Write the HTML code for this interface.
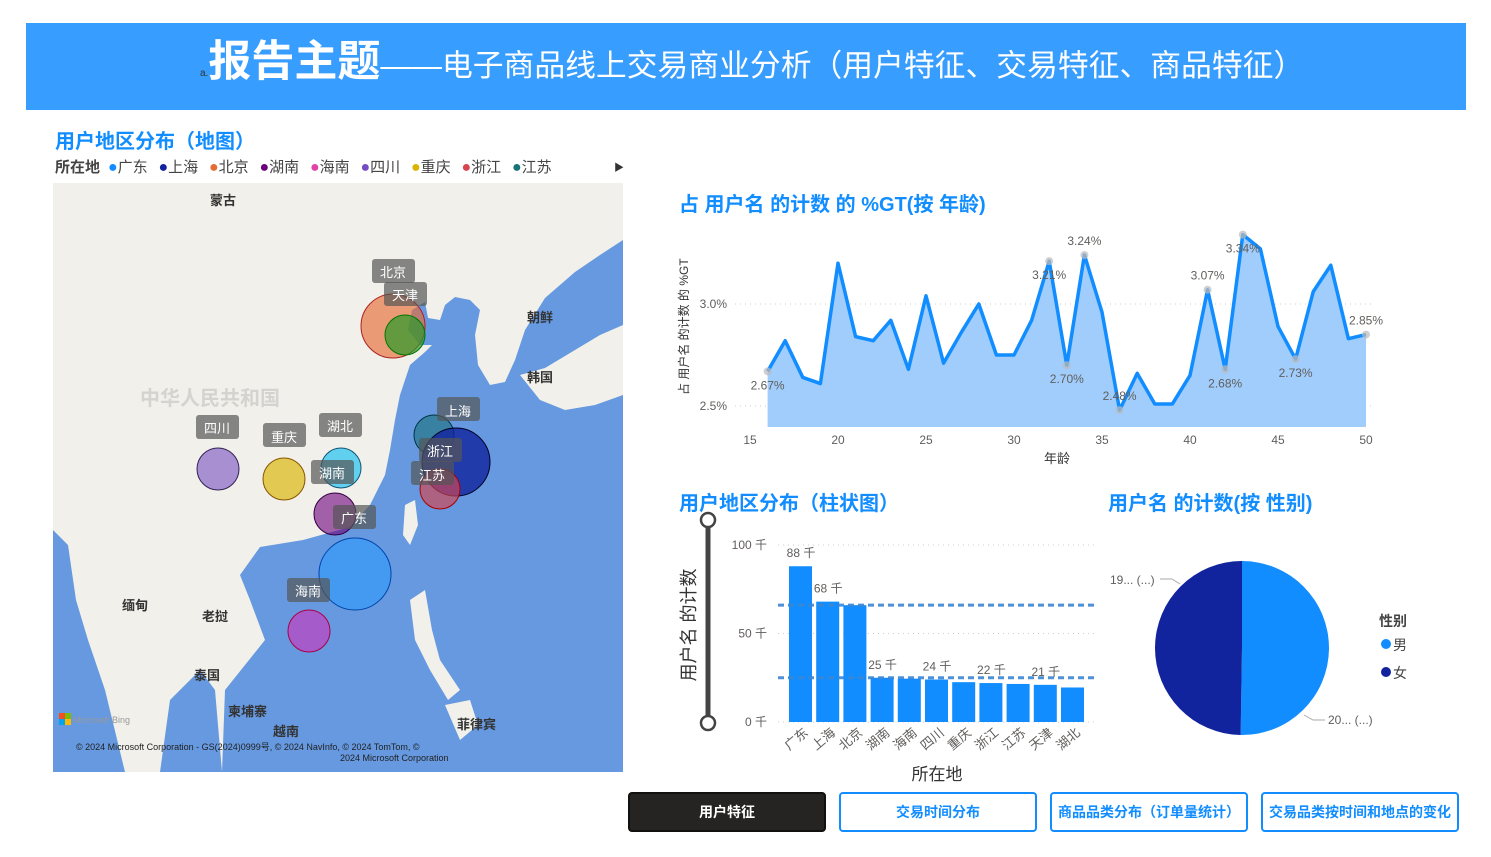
<!DOCTYPE html>
<html><head><meta charset="utf-8">
<style>
body{margin:0;width:1491px;height:857px;background:#fff;overflow:hidden;font-family:"Liberation Sans","Noto Sans CJK SC",sans-serif;position:relative}
.abs{position:absolute}
.ttl{color:#118dff;font-weight:bold;font-size:20px;white-space:nowrap}
.btn{position:absolute;top:792px;height:40px;width:198px;border:2px solid #118dff;border-radius:4px;box-sizing:border-box;color:#118dff;font-size:14px;font-weight:bold;text-align:center;line-height:36px;background:#fff}
.li{display:inline-block;width:50.5px}
.dot{font-size:16px}
</style></head><body>
<div class="abs" style="left:26px;top:23px;width:1440px;height:87px;background:#379dff"></div>
<div class="abs" style="left:200px;top:34px;color:#fff;white-space:nowrap;height:60px;line-height:56px">
<span style="font-size:10px;color:#333">a.</span><span style="font-size:43px;font-weight:bold">报告主题</span><span style="font-size:30.8px">——电子商品线上交易商业分析（用户特征、交易特征、商品特征）</span></div>

<div class="abs ttl" style="left:55px;top:125px">用户地区分布（地图）</div>
<div class="abs" style="left:55px;top:156px;font-size:15px;color:#444;white-space:nowrap">
<b style="display:inline-block;width:53px">所在地</b><span class="li"><span class="dot" style="color:#118dff">●</span>广东</span><span class="li"><span class="dot" style="color:#12239e">●</span>上海</span><span class="li"><span class="dot" style="color:#e66c37">●</span>北京</span><span class="li"><span class="dot" style="color:#6b007b">●</span>湖南</span><span class="li"><span class="dot" style="color:#e044a7">●</span>海南</span><span class="li"><span class="dot" style="color:#744ec2">●</span>四川</span><span class="li"><span class="dot" style="color:#d9b300">●</span>重庆</span><span class="li"><span class="dot" style="color:#d64550">●</span>浙江</span><span class="li"><span class="dot" style="color:#197278">●</span>江苏</span></div>
<div class="abs" style="left:614px;top:159px;font-size:10px;color:#333">▶</div>

<svg class="abs" style="left:53px;top:183px" width="570" height="589" viewBox="53 183 570 589">
<rect x="53" y="183" width="570" height="589" fill="#f2f0ea"/>
<path d="M623,240 L600,255 L575,272 L545,298 L525,330 L515,360 L505,382 L490,385 L478,365 L475,335 L480,310 L470,300 L455,297 L445,305 L440,320 L428,318 L425,302 L412,310 L408,330 L420,345 L432,345 L425,352 L410,365 L405,380 L400,395 L395,420 L390,450 L385,475 L370,505 L350,527 L303,540 L260,547 L240,575 L250,600 L265,640 L245,665 L225,690 L222,772 L623,772 Z" fill="#6699e0"/>
<path d="M53,530 L68,545 L76,600 L88,640 L105,690 L125,772 L53,772 Z" fill="#6699e0"/>
<path d="M160,772 L170,700 L200,670 L215,690 L222,772 Z" fill="#6699e0"/>
<path d="M520,375 L545,368 L575,350 L600,335 L623,325 L623,395 L595,405 L565,410 L540,400 Z" fill="#f2f0ea"/>
<path d="M405,505 L415,500 L418,525 L410,545 L403,535 Z" fill="#f2f0ea"/>
<path d="M410,600 L425,590 L432,630 L440,660 L460,690 L448,700 L430,670 L415,640 Z" fill="#f2f0ea"/>
<path d="M445,705 L470,700 L478,725 L460,740 Z" fill="#f2f0ea"/>
<g font-size="13" font-weight="bold" fill="#333">
<text x="210" y="205">蒙古</text><text x="527" y="322">朝鲜</text><text x="527" y="382">韩国</text>
<text x="122" y="610">缅甸</text><text x="202" y="621">老挝</text><text x="194" y="680">泰国</text><text x="228" y="716">柬埔寨</text><text x="273" y="736">越南</text><text x="457" y="729">菲律宾</text></g>
<text x="140" y="405" font-size="20" font-weight="bold" fill="#d5d3cf">中华人民共和国</text>
<g stroke-width="1">
<circle cx="393" cy="326" r="32" fill="#e66c37" fill-opacity=".65" stroke="#a22"/>
<circle cx="405" cy="335" r="20" fill="#2a9a2a" fill-opacity=".7" stroke="#070"/>
<circle cx="218" cy="469" r="21" fill="#744ec2" fill-opacity=".6" stroke="#325"/>
<circle cx="284" cy="479" r="21" fill="#d9b300" fill-opacity=".65" stroke="#850"/>
<circle cx="341" cy="468" r="20" fill="#3cc8f0" fill-opacity=".8" stroke="#157"/>
<circle cx="335" cy="514" r="21" fill="#6b007b" fill-opacity=".6" stroke="#304"/>
<circle cx="355" cy="574" r="36" fill="#3a9bf5" fill-opacity=".75" stroke="#04a"/>
<circle cx="309" cy="631" r="21" fill="#c040c0" fill-opacity=".7" stroke="#a04"/>
<circle cx="434" cy="435" r="20" fill="#197278" fill-opacity=".6" stroke="#034"/>
<circle cx="456" cy="462" r="34" fill="#12239e" fill-opacity=".8" stroke="#002"/>
<circle cx="440" cy="489" r="20" fill="#d64550" fill-opacity=".65" stroke="#a00"/>
</g>
<g font-size="13" fill="#fff">
<rect x="372" y="259" width="43" height="24" rx="3" fill="#555" fill-opacity=".7"/><text x="380" y="277">北京</text>
<rect x="384" y="282" width="43" height="24" rx="3" fill="#555" fill-opacity=".7"/><text x="392" y="300">天津</text>
<rect x="196" y="415" width="43" height="24" rx="3" fill="#555" fill-opacity=".7"/><text x="204" y="433">四川</text>
<rect x="263" y="423" width="43" height="24" rx="3" fill="#555" fill-opacity=".7"/><text x="271" y="442">重庆</text>
<rect x="319" y="413" width="43" height="24" rx="3" fill="#555" fill-opacity=".7"/><text x="327" y="431">湖北</text>
<rect x="311" y="460" width="43" height="24" rx="3" fill="#555" fill-opacity=".7"/><text x="319" y="478">湖南</text>
<rect x="333" y="505" width="43" height="24" rx="3" fill="#555" fill-opacity=".7"/><text x="341" y="523">广东</text>
<rect x="287" y="578" width="43" height="24" rx="3" fill="#555" fill-opacity=".7"/><text x="295" y="596">海南</text>
<rect x="437" y="397" width="43" height="24" rx="3" fill="#555" fill-opacity=".7"/><text x="445" y="416">上海</text>
<rect x="419" y="438" width="43" height="24" rx="3" fill="#555" fill-opacity=".7"/><text x="427" y="456">浙江</text>
<rect x="411" y="461" width="43" height="24" rx="3" fill="#555" fill-opacity=".7"/><text x="419" y="480">江苏</text></g>
<rect x="59" y="713" width="6" height="6" fill="#f25022"/><rect x="65" y="713" width="6" height="6" fill="#7fba00"/><rect x="59" y="719" width="6" height="6" fill="#00a4ef"/><rect x="65" y="719" width="6" height="6" fill="#ffb900"/>
<text x="73" y="723" font-size="9" fill="#999">Microsoft Bing</text>
<text x="76" y="750" font-size="9" fill="#222">© 2024 Microsoft Corporation - GS(2024)0999号, © 2024 NavInfo, © 2024 TomTom, ©</text>
<text x="340" y="761" font-size="9" fill="#222">2024 Microsoft Corporation</text>
</svg>

<div class="abs ttl" style="left:679px;top:188px">占 用户名 的计数 的 %GT(按 年龄)</div>
<svg class="abs" id="lineSvg" style="left:0;top:0" width="1491" height="857"></svg>

<div class="abs ttl" style="left:679px;top:487px">用户地区分布（柱状图）</div>
<div class="abs ttl" style="left:1108px;top:487px">用户名 的计数(按 性别)</div>

<div class="btn" style="left:628px;background:#252423;border-color:#111;color:#fff">用户特征</div>
<div class="btn" style="left:839px">交易时间分布</div>
<div class="btn" style="left:1050px">商品品类分布（订单量统计）</div>
<div class="btn" style="left:1261px">交易品类按时间和地点的变化</div>

<script>
const ages=[16,17,18,19,20,21,22,23,24,25,26,27,28,29,30,31,32,33,34,35,36,37,38,39,40,41,42,43,44,45,46,47,48,49,50];
const pctValues=[2.67,2.82,2.64,2.61,3.20,2.84,2.82,2.92,2.68,3.04,2.71,2.86,3.00,2.75,2.75,2.92,3.21,2.70,3.24,2.96,2.48,2.66,2.51,2.51,2.65,3.07,2.68,3.34,3.27,2.89,2.73,3.06,3.19,2.83,2.85];
const ageTicks=[15,20,25,30,35,40,45,50];
const pctTicks=[2.5,3.0];
const labeledAges=[16,32,33,34,36,41,42,43,46,50];
const regions=["广东","上海","北京","湖南","海南","四川","重庆","浙江","江苏","天津","湖北"];
const regionCounts=[88,68,66,25,24.5,24,22.5,22,21.5,21,19.5];
const regionLabels=["88 千","68 千","","25 千","","24 千","","22 千","","21 千",""];
const countTicks=[0,50,100];
const refLines=[66,25];
const genders=["男","女"];
const genderCounts=[20.1,19.9];

const NS="http://www.w3.org/2000/svg";
const svg=document.getElementById('lineSvg');
function mk(tag,attrs,parent){const e=document.createElementNS(NS,tag);for(const k in attrs)e.setAttribute(k,attrs[k]);(parent||svg).appendChild(e);return e;}
function txt(x,y,s,attrs){const e=mk('text',Object.assign({x:x,y:y,'font-size':12,fill:'#605e5c'},attrs||{}));e.textContent=s;return e;}

// line chart
const lx=a=>750+(a-15)*17.6, ly=v=>406-(v-2.5)*204;
pctTicks.forEach(t=>{const g=mk('line',{x1:735,x2:1375,y1:ly(t),y2:ly(t),stroke:'#ccc','stroke-dasharray':'1 4'});

const l=txt(727,ly(t)+4,t.toFixed(1)+'%',{'text-anchor':'end'});});
ageTicks.forEach(t=>{const l=txt(lx(t),444,String(t),{'text-anchor':'middle'});});
let pts=ages.map((a,i)=>lx(a)+','+ly(pctValues[i]));
const area=mk('polygon',{points:lx(ages[0])+',427 '+pts.join(' ')+' '+lx(ages[ages.length-1])+',427',fill:'#a0cdfb'});

const line=mk('polyline',{points:pts.join(' '),fill:'none',stroke:'#118dff','stroke-width':3.5,'stroke-linejoin':'round'});

labeledAges.forEach(a=>{const i=ages.indexOf(a),v=pctValues[i];
const above=(v>=2.95 && a!==43 && a!==32)||a===36||a===50;
const c=mk('circle',{cx:lx(a),cy:ly(v),r:4,fill:'#bbb','fill-opacity':.7});
const yy=above?ly(v)-10:ly(v)+18;
const l=txt(lx(a),yy,v.toFixed(2)+'%',{'text-anchor':'middle'});});
let t1=txt(1057,463,'年龄',{'text-anchor':'middle','font-size':13,fill:'#333'});
let t2=txt(0,0,'占 用户名 的计数 的 %GT',{'font-size':12,fill:'#333',transform:'translate(688,395) rotate(-90)'});

// bar chart
const by=v=>722-v*1.77, bx=i=>789+i*27.2;
mk('line',{x1:708,x2:708,y1:520,y2:723,stroke:'#444','stroke-width':5});
[520,723].forEach(y=>{const c=mk('circle',{cx:708,cy:y,r:7,fill:'#fff',stroke:'#444','stroke-width':2.5});});
countTicks.forEach(t=>{const g=mk('line',{x1:778,x2:1095,y1:by(t),y2:by(t),stroke:'#ccc','stroke-dasharray':'1 4'});
const l=txt(767,by(t)+4,t+' 千',{'text-anchor':'end'});});
regions.forEach((r,i)=>{const v=regionCounts[i];
const b=mk('rect',{x:bx(i),y:by(v),width:23,height:v*1.77,fill:'#118dff'});
if(regionLabels[i]){const l=txt(bx(i)+12,by(v)-9,regionLabels[i],{'text-anchor':'middle'});}
const l=txt(0,0,r,{'text-anchor':'end','font-size':13,transform:'translate('+(bx(i)+20)+',734) rotate(-40)'});});
refLines.forEach(v=>{const g=mk('line',{x1:778,x2:1095,y1:by(v),y2:by(v),stroke:'#3a86d4','stroke-width':3,'stroke-dasharray':'6 4','stroke-opacity':.9});});
let t3=txt(937,780,'所在地',{'text-anchor':'middle','font-size':17,fill:'#333'});
let t4=txt(0,0,'用户名 的计数',{'text-anchor':'middle','font-size':18,fill:'#333',transform:'translate(695,625) rotate(-90)'});

// pie
const cx=1242,cy=648,R=87,tot=genderCounts.reduce((a,b)=>a+b,0);const cols=['#118dff','#12239e'];
let ang=-Math.PI/2;
genders.forEach((g,i)=>{const a2=ang+genderCounts[i]/tot*2*Math.PI;
const x1=cx+R*Math.cos(ang),y1=cy+R*Math.sin(ang),x2=cx+R*Math.cos(a2),y2=cy+R*Math.sin(a2);
const p=mk('path',{d:`M${cx},${cy} L${x1},${y1} A${R},${R} 0 ${a2-ang>Math.PI?1:0} 1 ${x2},${y2} Z`,fill:cols[i]});
ang=a2;});
mk('polyline',{points:'1304,715 1313,720 1325,720',fill:'none',stroke:'#aaa'});
mk('polyline',{points:'1180,584 1172,579 1160,579',fill:'none',stroke:'#aaa'});
let p1=txt(1328,724,'20... (...)');
let p2=txt(1110,584,'19... (...)');
let lt=txt(1379,626,'性别',{'font-size':14,'font-weight':'bold',fill:'#444'});
genders.forEach((g,i)=>{const c=mk('circle',{cx:1386,cy:644+i*28,r:5,fill:cols[i]});
const l=txt(1393,650+i*28,g,{'font-size':14,fill:'#444'});});
</script>
</body></html>
